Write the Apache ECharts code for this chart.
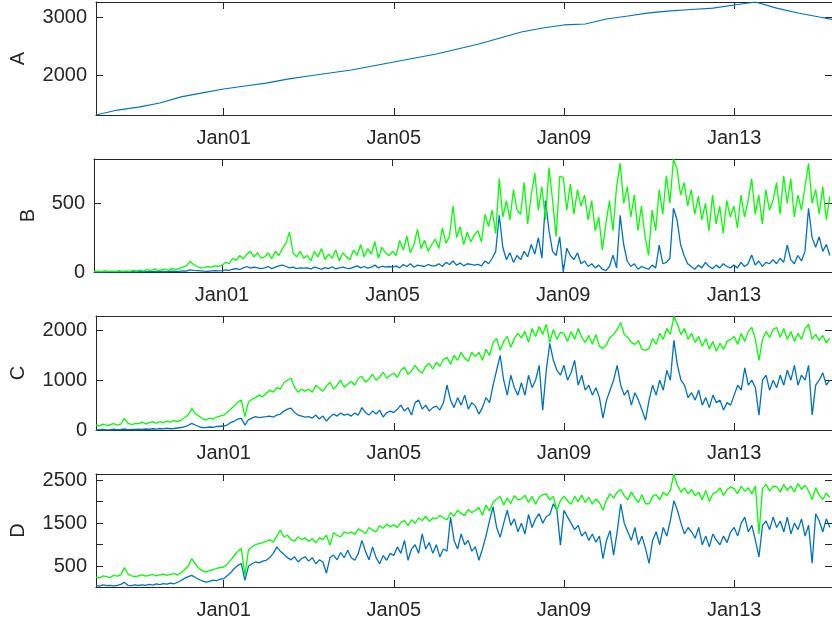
<!DOCTYPE html>
<html>
<head>
<meta charset="utf-8">
<script src="https://cdn.jsdelivr.net/npm/echarts@6/dist/echarts.min.js"></script>
<style>
  html, body { margin: 0; padding: 0; background: #fff; }
  #chart { width: 832px; height: 625px; }
</style>
</head>
<body>
<div id="chart"></div>
<script>
// Time axis: days relative to Jan 01 00:00 (Dec 29 = -3)
const xStart = -3;
const xEnd = 14.3;
const stepA = 0.5;       // panel A sampled every 12 h
const stepBCD = 1 / 12;  // panels B-D sampled every 2 h (one row = one day)
const dateTicks = [0, 4, 8, 12];

// Panel A
const aVals = [1307, 1393, 1445, 1515, 1620, 1690, 1757, 1810, 1860, 1930, 1983, 2035,
  2087, 2156, 2225, 2295, 2364, 2450, 2537, 2641, 2745, 2815, 2867, 2884,
  2970, 3022, 3075, 3110, 3135, 3160, 3213, 3265, 3160, 3075, 3005, 2936];

// Panel B
const bGreen = [
  2, 6, 3, 9, 4, 7, 3, 10, 5, 8, 4, 11,
  8, 14, 6, 18, 10, 22, 12, 16, 20, 12, 26, 18,
  25, 35, 45, 78, 55, 40, 30, 32, 40, 35, 45, 40,
  49, 70, 60, 100, 85, 120, 95, 130, 150, 110, 140, 100,
  110, 140, 95, 150, 120, 170, 210, 290, 140, 110, 150, 100,
  120, 80, 150, 110, 170, 90, 130, 100, 160, 80, 140, 110,
  90, 160, 120, 200, 110, 170, 130, 220, 100, 180, 140, 120,
  150, 120, 230, 160, 260, 140, 200, 310, 170, 230, 150, 200,
  240, 170, 320, 210, 260, 480, 250, 330, 200, 290, 220, 270,
  300, 220, 420, 330, 450, 280, 680, 400, 520, 380, 600, 450,
  420, 650, 350, 560, 720, 450, 620, 380, 757, 520, 256, 694,
  690, 450, 640, 420, 600, 480, 560, 380, 520, 300, 400, 160,
  350, 520, 300, 620, 792, 500, 620, 400, 560, 300, 480, 260,
  120, 450, 300, 600, 420, 700, 500, 820, 750, 560, 650, 480,
  600, 420, 550, 380, 500, 300, 560, 350, 480, 280, 520, 400,
  480, 320, 560, 400, 520, 680, 420, 560, 350, 600, 450, 520,
  650, 420, 700, 500, 680, 400, 560, 450, 620, 790, 500, 600,
  420, 620, 380, 550];
const bBlue = [
  0, 1, 0, 1, 0, 2, 1, 0, 1, 2, 1, 2,
  1, 2, 3, 2, 4, 3, 2, 5, 3, 4, 6, 4,
  5, 8, 6, 15, 12, 10, 8, 6, 5, 8, 10, 8,
  10, 15, 12, 20, 25, 18, 30, 40, 28, 35, 30, 25,
  30, 40, 25, 35, 45, 50, 40, 30, 35, 25, 30, 28,
  30, 22, 35, 28, 20, 32, 25, 38, 22, 30, 35, 28,
  25, 35, 45, 30, 40, 28, 35, 50, 30, 42, 35, 40,
  35, 45, 30, 55, 40, 60, 35, 50, 45, 40, 55, 45,
  45, 60, 40, 70, 55, 80, 50, 65, 45, 60, 55, 50,
  55, 45, 80, 60, 100, 150, 413, 180, 90, 140, 70, 120,
  90, 150, 110, 200, 130, 250, 100, 520, 300, 150, 120, 256,
  0, 173, 120, 90, 140, 60, 80, 40, 60, 30, 50, 20,
  10, 40, 122, 30, 413, 200, 80, 40, 60, 20, 40, 30,
  20, 50, 30, 195, 60, 70, 100, 464, 380, 200, 120, 60,
  40, 20, 50, 30, 70, 40, 25, 50, 30, 60, 40, 30,
  50, 30, 70, 40, 60, 124, 50, 80, 40, 70, 60, 90,
  60, 100, 70, 195, 90, 60, 120, 80, 150, 464, 250, 180,
  256, 150, 200, 120];

// Panel C
const cGreen = [
  100, 80, 120, 90, 110, 130, 100, 120, 233, 140, 110, 130,
  130, 160, 120, 150, 170, 140, 166, 150, 180, 160, 190, 170,
  200, 250, 300, 433, 330, 280, 230, 200, 240, 220, 260, 280,
  300, 350, 420, 480, 560, 600, 270, 560, 620, 650, 700, 667,
  733, 800, 760, 850, 820, 950, 1000, 1040, 860, 760, 820, 780,
  820, 760, 900, 840, 780, 880, 960, 820, 900, 1000, 860, 920,
  980, 900, 1040, 1080, 960, 1020, 1120, 1000, 1060, 1160, 1040, 1100,
  1140, 1060, 1200, 1260, 1120, 1180, 1300, 1200, 1140, 1280, 1340, 1220,
  1360, 1280, 1420, 1460, 1320, 1500, 1400, 1560, 1440, 1380, 1560, 1480,
  1560, 1400, 1620, 1500, 1760, 1840, 1600, 1780, 1880, 1660, 1840, 1940,
  1850, 1980, 1760, 2040, 1880, 2080, 1920, 2120, 1760, 2020, 1820, 1960,
  1940, 1780, 1980, 1820, 2040, 1860, 1760, 1900, 1720, 1920, 1680, 1640,
  1720, 1860, 1920, 2020, 2160, 1920, 1860, 1760, 1720, 1800, 1620, 1600,
  1640, 1840, 1720, 1940, 1820, 2040, 1920, 2280, 2120, 1920, 2040, 1820,
  1940, 1760, 1880, 1680, 1840, 1620, 1780, 1580, 1740, 1620, 1780, 1820,
  1880, 1720, 1940, 1780, 1980, 2060, 1820, 1400, 1820, 1980, 1860, 2020,
  2060, 1860, 2040, 1820, 1980, 1780, 1940, 1820, 2040, 2120, 1820, 1920,
  1800, 1900, 1750, 1850];
const cBlue = [
  0, 5, 10, 3, 8, 15, 5, 10, 20, 8, 12, 10,
  15, 10, 20, 15, 25, 18, 30, 22, 35, 25, 30, 40,
  50, 70, 90, 133, 100, 70, 50, 47, 60, 55, 70, 75,
  80, 100, 150, 180, 220, 233, 100, 210, 240, 267, 250, 260,
  267, 280, 260, 300, 320, 380, 420, 440, 350, 300, 280, 260,
  270, 240, 300, 220, 280, 180, 260, 320, 280, 340, 300, 320,
  280, 340, 300, 450, 350, 300, 380, 320, 400, 260, 350, 380,
  350, 420, 500, 380, 450, 300, 550, 600, 420, 500, 380, 450,
  480, 400, 550, 900, 600, 450, 650, 500, 700, 420, 550, 480,
  320, 450, 650, 550, 900, 1200, 1500, 1000, 700, 1100, 850, 700,
  950, 700, 1100, 850, 1000, 1300, 400, 1200, 1740, 1400, 1200, 1100,
  1300, 1000, 1150, 1400, 900, 1100, 800, 900, 700, 850, 650, 240,
  600, 800, 1000, 1300, 900, 700, 800, 500, 750, 600, 400, 200,
  600, 900, 700, 1000, 800, 1200, 1000, 1800, 1300, 1000, 900, 650,
  750, 600, 800, 500, 650, 450, 700, 550, 600, 400, 550, 500,
  700, 900, 800, 1250, 900, 1000, 850, 300, 1000, 1100, 800, 1000,
  850, 1100, 900, 1200, 1000, 1300, 900, 1100, 1000, 1300, 300, 900,
  1000, 1150, 900, 1000];

// Panel D
const dGreen = [
  250, 230, 280, 260, 240, 290, 270, 300, 470, 320, 280, 260,
  280, 300, 270, 290, 310, 280, 300, 320, 290, 310, 330, 300,
  350, 420, 500, 680, 560, 450, 400, 367, 400, 420, 450, 470,
  484, 550, 650, 750, 850, 910, 290, 880, 950, 1000, 1028, 1050,
  1080, 1120, 1060, 1200, 1337, 1180, 1220, 1120, 1080, 1180, 1120, 1160,
  1080, 1140, 1040, 1160, 1120, 1220, 990, 1280, 1220, 1180, 1300, 1260,
  1300, 1240, 1360, 1320, 1260, 1400, 1340, 1300, 1440, 1380, 1480, 1420,
  1460, 1400, 1520, 1560, 1440, 1580, 1500, 1620, 1560, 1660, 1540, 1620,
  1600, 1680, 1620, 1580, 1740, 1660, 1800, 1720, 1680, 1820, 1740, 1800,
  1860, 1680, 1920, 1780, 1980, 2060, 2120, 1920, 2080, 1960, 2140, 2040,
  2060, 2150, 1980, 2120, 1940, 2100, 2160, 2180, 2040, 2120, 1800, 2020,
  2120, 2020, 1940, 2120, 2000, 2150, 1980, 2100, 1940, 2060, 1980, 1800,
  2040, 2180, 2080, 2220, 2280, 2140, 2040, 2220, 2080, 1980, 2160, 1950,
  1950, 2120, 2160, 2040, 2220, 2140, 2260, 2640, 2380, 2220, 2320, 2180,
  2280, 2140, 2220, 2040, 2260, 2000, 2180, 2220, 2320, 2140, 2280, 2340,
  2300, 2180, 2360, 2240, 2320, 2180, 2360, 1250, 2300, 2400, 2240, 2360,
  2340, 2220, 2400, 2260, 2360, 2220, 2420, 2280, 2380, 2240, 2050, 2320,
  2150, 2050, 2200, 2100];
const dBlue = [
  60, 40, 70, 50, 60, 45, 55, 80, 130, 60, 50, 70,
  55, 70, 60, 80, 65, 90, 75, 100, 85, 110, 95, 130,
  170, 220, 260, 290, 240, 200, 160, 135, 150, 180, 170, 200,
  214, 280, 350, 450, 520, 562, 175, 500, 560, 600, 580, 620,
  640, 700, 800, 950, 850, 780, 700, 650, 720, 600, 680, 720,
  620, 700, 560, 650, 600, 340, 700, 760, 650, 820, 700, 870,
  700, 640, 800, 1100, 850, 650, 950, 700, 560, 750, 640, 800,
  750, 950, 800, 1100, 640, 900, 1000, 800, 1250, 900, 1050, 800,
  1000, 720, 900, 850, 1640, 1100, 900, 1250, 1000, 1100, 850, 950,
  640, 900, 1200, 1560, 1880, 1400, 1170, 1500, 1800, 1450, 1600, 1300,
  1500, 1250, 1700, 1400, 1600, 1720, 1500, 1650, 1700, 1950, 1800, 990,
  1800, 1640, 1500, 1350, 1450, 1200, 1300, 1100, 1250, 1060, 1200, 680,
  1100, 1330, 760, 1300, 1950, 1500, 1300, 1100, 1400, 1000, 1200, 910,
  570, 1100, 1300, 1000, 1400, 1200, 1560, 2020, 1800, 1500, 1250, 1400,
  1300, 1150, 1400, 1000, 1200, 950, 1250, 1100, 1000, 1200, 1050, 1300,
  1400, 1200, 1500, 1640, 1300, 1450, 1100, 720, 1450, 1550, 1350, 1640,
  1400, 1550, 1300, 1640, 1250, 1500, 1350, 1600, 1200, 1450, 570, 1720,
  1550, 1300, 1600, 1400];

// Axis limits and ticks per panel
const panelNames = ['A', 'B', 'C', 'D'];
const yLimits = [[1307, 3265], [0, 822], [0, 2290], [20, 2640]];
const yTicks = [[2000, 3000], [0, 500], [0, 1000, 2000], [500, 1000, 1500, 2000, 2500]];
const yTickLabels = [[2000, 3000], [0, 500], [0, 1000, 2000], [500, 1500, 2500]];

const BLUE = '#0072BD';
const GREEN = '#00FF00';
const INK = '#262626';
const FONT = 'Liberation Sans, Arial, Helvetica, sans-serif';

function pairs(vals, step) {
  return vals.map((v, i) => [xStart + i * step, v]);
}
function dayLabel(v) {
  const d = Math.round(v) + 1;
  return 'Jan' + (d < 10 ? '0' + d : String(d));
}
function plainNumber(v) {
  return String(Math.round(v));
}

const gridBoxes = [
  { top: 2, height: 113 },
  { top: 159, height: 113 },
  { top: 316, height: 114 },
  { top: 474, height: 113 }
];
const nameGaps = [68, 56, 68, 68];

const grids = [], xAxes = [], yAxes = [], series = [];
gridBoxes.forEach((g, p) => {
  grids.push({ left: 94, right: 0, top: g.top, height: g.height, containLabel: false });
  const tickStyle = { show: true, inside: true, length: 7, lineStyle: { color: INK, width: 1 } };
  // bottom and mirrored top date axes
  xAxes.push({
    type: 'value', gridIndex: p, position: 'bottom', min: xStart, max: xEnd,
    axisLine: { show: true, onZero: false, lineStyle: { color: INK, width: 1 } },
    axisTick: Object.assign({ customValues: dateTicks }, tickStyle),
    axisLabel: { customValues: dateTicks, formatter: dayLabel, color: INK, fontSize: 20, fontFamily: FONT, margin: 13 },
    splitLine: { show: false }
  });
  xAxes.push({
    type: 'value', gridIndex: p, position: 'top', min: xStart, max: xEnd,
    axisLine: { show: true, onZero: false, lineStyle: { color: INK, width: 1 } },
    axisTick: Object.assign({ customValues: dateTicks }, tickStyle),
    axisLabel: { show: false },
    splitLine: { show: false }
  });
  // left value axis with panel name, mirrored right axis
  yAxes.push({
    type: 'value', gridIndex: p, position: 'left', min: yLimits[p][0], max: yLimits[p][1],
    name: panelNames[p], nameLocation: 'middle', nameRotate: 90, nameGap: nameGaps[p],
    nameTextStyle: { color: INK, fontSize: 20, fontFamily: FONT },
    axisLine: { show: true, onZero: false, lineStyle: { color: INK, width: 1 } },
    axisTick: Object.assign({ customValues: yTicks[p] }, tickStyle),
    axisLabel: { customValues: yTickLabels[p], formatter: plainNumber, color: INK, fontSize: 20, fontFamily: FONT, margin: 9 },
    splitLine: { show: false }
  });
  yAxes.push({
    type: 'value', gridIndex: p, position: 'right', min: yLimits[p][0], max: yLimits[p][1],
    axisLine: { show: true, onZero: false, lineStyle: { color: INK, width: 1 } },
    axisTick: Object.assign({ customValues: yTicks[p] }, tickStyle),
    axisLabel: { show: false },
    splitLine: { show: false }
  });
});

function line(p, vals, step, color, width) {
  return {
    type: 'line', xAxisIndex: p * 2, yAxisIndex: p * 2,
    data: pairs(vals, step), showSymbol: false, symbol: 'none',
    lineStyle: { color: color, width: width }, itemStyle: { color: color },
    silent: true, clip: true
  };
}

series.push(line(0, aVals, stepA, BLUE, 1.2));
series.push(line(1, bBlue, stepBCD, BLUE, 1.3));
series.push(line(1, bGreen, stepBCD, GREEN, 1.3));
series.push(line(2, cBlue, stepBCD, BLUE, 1.3));
series.push(line(2, cGreen, stepBCD, GREEN, 1.3));
series.push(line(3, dBlue, stepBCD, BLUE, 1.3));
series.push(line(3, dGreen, stepBCD, GREEN, 1.3));

const chart = echarts.init(document.getElementById('chart'), null, { renderer: 'canvas' });
chart.setOption({
  animation: false,
  backgroundColor: '#ffffff',
  grid: grids,
  xAxis: xAxes,
  yAxis: yAxes,
  series: series
});
</script>
</body>
</html>
